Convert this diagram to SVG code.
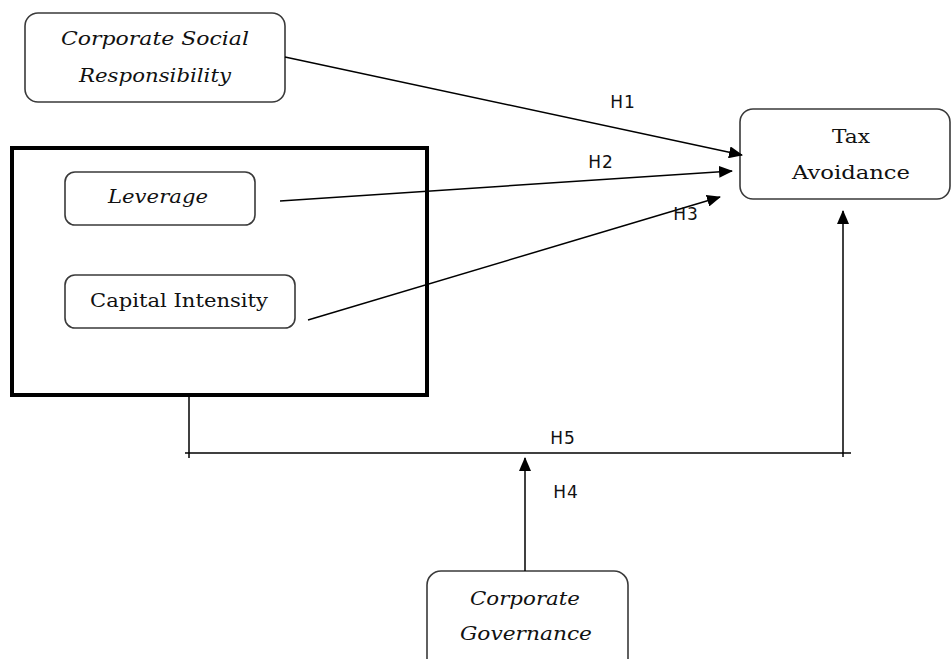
<svg xmlns="http://www.w3.org/2000/svg" width="952" height="659" viewBox="0 0 952 659">
  <style>
    .box { fill: #ffffff; stroke: #3a3a3a; stroke-width: 1.6; }
    .frame { fill: none; stroke: #000000; stroke-width: 4; }
    .t { font-family: "DejaVu Serif", "Liberation Serif", serif; font-size: 19px; fill: #111; text-anchor: middle; }
    .it { font-style: italic; }
    .lbl { font-family: "DejaVu Sans", "Liberation Sans", sans-serif; font-size: 17px; fill: #111; text-anchor: middle; letter-spacing: 1px; }
    .ln { stroke: #000; stroke-width: 1.5; fill: none; }
  </style>
  <defs>
    <marker id="ah" markerUnits="userSpaceOnUse" markerWidth="14" markerHeight="12" refX="13" refY="6" orient="auto">
      <path d="M0,0 L14,6 L0,12 Z" fill="#000"/>
    </marker>
  </defs>
  <rect width="952" height="659" fill="#fff"/>

  <g id="moderating-frame">
    <rect class="frame" x="12" y="148" width="415" height="247"/>
  </g>

  <g id="csr">
    <rect class="box" x="25" y="13" width="260" height="89" rx="13"/>
    <text class="t it" x="155" y="45" textLength="188" lengthAdjust="spacingAndGlyphs">Corporate Social</text>
    <text class="t it" x="155" y="82" textLength="152" lengthAdjust="spacingAndGlyphs">Responsibility</text>
  </g>

  <g id="tax-avoidance">
    <rect class="box" x="740" y="109" width="210" height="90" rx="13"/>
    <text class="t" x="851" y="143" textLength="38" lengthAdjust="spacingAndGlyphs">Tax</text>
    <text class="t" x="851" y="179" textLength="118" lengthAdjust="spacingAndGlyphs">Avoidance</text>
  </g>

  <g id="leverage">
    <rect class="box" x="65" y="172" width="190" height="53" rx="10"/>
    <text class="t it" x="158" y="203" textLength="100" lengthAdjust="spacingAndGlyphs">Leverage</text>
  </g>

  <g id="capital-intensity">
    <rect class="box" x="65" y="275" width="230" height="53" rx="10"/>
    <text class="t" x="179" y="307" textLength="178" lengthAdjust="spacingAndGlyphs">Capital Intensity</text>
  </g>

  <g id="corporate-governance">
    <rect class="box" x="427" y="571" width="201" height="110" rx="14"/>
    <text class="t it" x="525" y="605" textLength="110" lengthAdjust="spacingAndGlyphs">Corporate</text>
    <text class="t it" x="526" y="640" textLength="132" lengthAdjust="spacingAndGlyphs">Governance</text>
  </g>

  <g id="connectors">
    <line class="ln" x1="285" y1="57" x2="742" y2="155" marker-end="url(#ah)"/>
    <line class="ln" x1="280" y1="201" x2="732" y2="171" marker-end="url(#ah)"/>
    <line class="ln" x1="308" y1="320" x2="720" y2="197" marker-end="url(#ah)"/>
    <line class="ln" x1="189" y1="395" x2="189" y2="458"/>
    <line class="ln" x1="185" y1="453" x2="851" y2="453"/>
    <line class="ln" x1="843" y1="457" x2="843" y2="211" marker-end="url(#ah)"/>
    <line class="ln" x1="525" y1="571" x2="525" y2="458" marker-end="url(#ah)"/>
  </g>

  <g id="labels">
    <text class="lbl" x="623" y="108">H1</text>
    <text class="lbl" x="601" y="168">H2</text>
    <text class="lbl" x="686" y="220">H3</text>
    <text class="lbl" x="563" y="444">H5</text>
    <text class="lbl" x="566" y="498">H4</text>
  </g>
</svg>
